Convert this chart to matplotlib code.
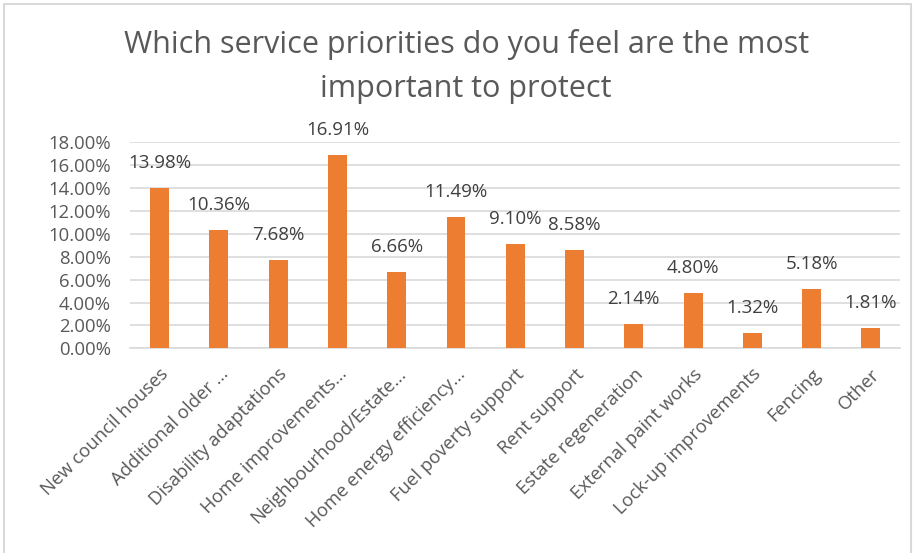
import matplotlib.pyplot as plt
import numpy as np
from matplotlib.patches import Rectangle
from matplotlib.ticker import PercentFormatter

plt.rcParams['font.family'] = ['Open Sans', 'DejaVu Sans']

categories = ['New council houses', 'Additional older ...', 'Disability adaptations',
              'Home improvements...', 'Neighbourhood/Estate...', 'Home energy efficiency...',
              'Fuel poverty support', 'Rent support', 'Estate regeneration',
              'External paint works', 'Lock-up improvements', 'Fencing', 'Other']
values = [13.98, 10.36, 7.68, 16.91, 6.66, 11.49, 9.10, 8.58, 2.14, 4.80, 1.32, 5.18, 1.81]
yticks = np.arange(0, 18.1, 2)

grey = '#595959'
orange = '#ED7D31'

fig = plt.figure(figsize=(9.16, 5.53), dpi=100)
ax = fig.add_axes([0.142, 0.37, 0.841, 0.373])

x = np.arange(len(categories))
ax.bar(x, values, width=0.32, color=orange, zorder=3)
for xi, v in zip(x, values):
    ax.annotate(f'{v:.2f}%', (xi, v), xytext=(0, 18), textcoords='offset points',
                ha='center', va='center', fontsize=13.5, color='#404040')

ax.set_xlim(-0.5, len(categories) - 0.5)
ax.set_ylim(0, 18)
ax.set_yticks(yticks)
ax.yaxis.set_major_formatter(PercentFormatter(decimals=2))
ax.grid(axis='y', color='#D9D9D9', linewidth=1.2, zorder=0)
for s in ['top', 'right', 'left']:
    ax.spines[s].set_visible(False)
ax.spines['bottom'].set_color('#D9D9D9')
ax.spines['bottom'].set_linewidth(1.2)
ax.tick_params(axis='both', length=0, labelsize=13.3, labelcolor=grey)
ax.tick_params(axis='y', pad=14)
ax.tick_params(axis='x', pad=12)
ax.set_xticks(x)
ax.set_xticklabels(categories, rotation=45, ha='right', rotation_mode='anchor')

fig.text(0.509, 0.88, 'Which service priorities do you feel are the most\nimportant to protect',
         ha='center', va='center', fontsize=22, color=grey, linespacing=1.6)

fig.patches.append(Rectangle((0.004, -0.01), 0.99, 1.003, transform=fig.transFigure,
                             fill=False, edgecolor='#D9D9D9', linewidth=1.5))

fig.savefig('out.png', dpi=100)
